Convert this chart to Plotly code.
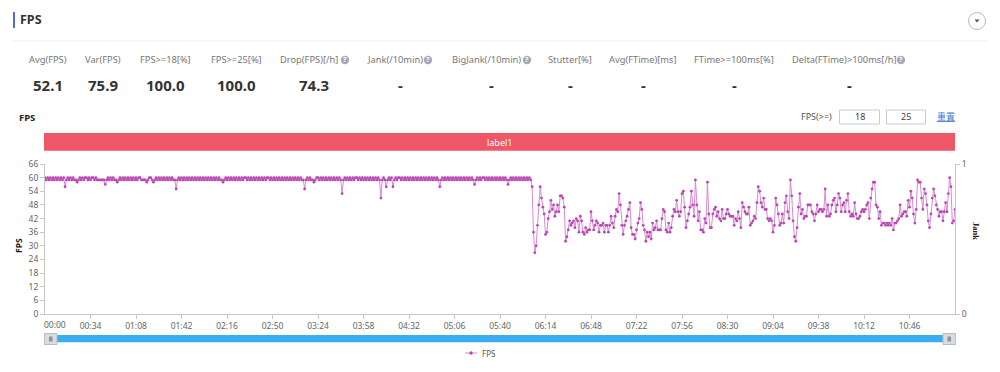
import plotly.graph_objects as go

W, H = 1000, 372

fps_steady = [
60,59,60,59,60,59,60,59,60,59,60,59,60,59,60,56,59,60,59,60,
59,60,59,59,58,59,60,59,60,59,60,60,59,60,59,60,60,59,60,59,
59,59,59,59,59,57,59,60,59,60,59,60,59,59,58,59,60,59,60,59,
60,59,60,59,60,59,60,59,60,59,60,60,59,59,59,59,58,59,60,60,
59,58,59,60,59,60,59,60,59,60,59,60,59,60,59,60,59,59,55,59,
60,59,60,59,60,59,60,59,60,59,60,59,60,59,60,59,60,59,60,59,
60,59,60,59,60,59,60,59,60,59,60,59,59,58,59,60,59,60,59,60,
59,60,59,60,59,60,59,60,59,60,60,59,60,59,60,59,60,59,60,59,
60,59,60,59,60,59,60,60,59,60,59,60,59,60,59,60,59,60,59,60,
59,60,59,60,59,60,59,60,59,60,59,60,59,59,55,59,60,59,60,59,
59,58,59,60,60,59,60,59,60,59,60,59,60,59,60,59,60,59,60,59,
60,59,53,59,60,59,60,59,60,59,60,59,60,60,59,60,59,60,59,60,
59,60,59,60,59,60,59,60,59,60,59,51,59,60,59,56,59,60,59,60,
56,59,60,59,60,60,59,60,59,60,59,60,59,60,59,60,59,60,59,60,
59,60,59,60,59,60,59,60,59,60,59,60,59,60,59,56,59,60,59,60,
59,60,59,60,59,60,59,60,59,60,59,60,59,60,59,60,59,60,59,60,
59,57,59,60,59,60,59,60,60,59,60,59,60,59,60,59,60,59,60,59,
60,59,60,59,60,59,57,59,60,59,60,59,60,59,60,59,60,59,60,59,
60,59,60,59,
]

fps_unstable = [
56,36,27,30,39,48,56,51,47,44,35,36,42,45,50,46,48,43,45,48,
45,52,52,51,47,32,34,37,41,39,40,41,38,42,41,36,43,41,36,35,
38,36,37,37,45,41,37,39,41,40,36,39,39,40,36,39,39,36,39,43,
40,38,43,46,45,53,48,39,35,39,41,43,46,49,38,35,35,33,37,40,
42,49,46,39,37,32,36,34,36,33,40,37,38,41,37,37,37,42,46,45,
37,36,40,36,38,43,46,45,50,45,43,45,53,54,47,38,41,44,47,54,
48,43,59,48,41,45,37,37,36,42,40,58,44,38,38,44,46,47,43,45,
42,41,46,42,42,44,46,44,43,43,43,39,42,41,45,42,38,49,47,45,
44,44,47,
39,40,41,43,42,49,56,54,49,47,51,46,46,42,41,42,41,36,39,51,
48,44,39,40,44,40,49,52,45,42,59,52,41,34,32,38,47,53,44,46,
42,43,43,48,48,48,45,44,41,44,48,45,46,46,45,46,55,43,48,43,
44,48,50,51,45,48,53,51,45,48,49,45,50,53,45,43,44,43,49,44,
42,42,43,45,46,45,46,48,49,42,51,55,58,58,48,47,42,45,39,40,
40,39,40,39,40,39,42,37,40,40,41,42,48,43,44,45,45,43,50,47,
54,51,44,40,46,59,58,58,51,46,55,53,48,41,38,44,51,55,52,48,
46,43,45,45,41,45,49,45,53,60,56,40,41,46,
]

fps = fps_steady + fps_unstable
seconds = list(range(len(fps)))

tick_seconds = [34, 68, 102, 136, 170, 204, 238, 272, 306, 340, 374, 408, 442, 476,
                510, 544, 578, 612, 646]
tick_labels = ["00:34", "01:08", "01:42", "02:16", "02:50", "03:24", "03:58", "04:32",
               "05:06", "05:40", "06:14", "06:48", "07:22", "07:56", "08:30", "09:04",
               "09:38", "10:12", "10:46"]
fps_ticks = [0, 6, 12, 18, 24, 30, 36, 42, 48, 54, 60, 66]
jank_ticks = [0, 1]

stat_names = ["Avg(FPS)", "Var(FPS)", "FPS>=18[%]", "FPS>=25[%]", "Drop(FPS)[/h]", "Jank(/10min)",
              "BigJank(/10min)", "Stutter[%]", "Avg(FTime)[ms]", "FTime>=100ms[%]", "Delta(FTime)>100ms[/h]"]
stat_values = ["52.1", "75.9", "100.0", "100.0", "74.3", "-", "-", "-", "-", "-", "-"]
stat_label_x = [48, 103, 165.5, 236, 309, 395, 486, 570, 643, 734, 844]
stat_value_x = [48, 103, 165.5, 236, 314, 400, 491, 570, 643, 734, 849]
stat_help_x = [None, None, None, None, 345, 428, 527, None, None, None, 901]

FONT = "Noto Sans"
CJK = "Noto Sans CJK SC"
LINE_COLOR = "#d98ad4"
MARK_COLOR = "#bb48b2"


def fx(p):
    return p / W


def fy(p):
    return 1 - p / H


shapes = []
annotations = []


def rect(x0, y0, x1, y1, fill=None, line=None, width=1):
    shapes.append(dict(type="rect", xref="paper", yref="paper", layer="above",
                       x0=fx(x0), x1=fx(x1), y0=fy(y1), y1=fy(y0),
                       fillcolor=fill if fill else "rgba(0,0,0,0)",
                       line=dict(color=line if line else "rgba(0,0,0,0)", width=width if line else 0)))


def circle(cx, cy, r, fill=None, line=None):
    shapes.append(dict(type="circle", xref="paper", yref="paper", layer="above",
                       x0=fx(cx - r), x1=fx(cx + r), y0=fy(cy + r), y1=fy(cy - r),
                       fillcolor=fill if fill else "rgba(0,0,0,0)",
                       line=dict(color=line if line else "rgba(0,0,0,0)", width=1 if line else 0)))


def text(x, y, s, size=9.5, color="#777777", bold=False, anchor="center", family=FONT, angle=0):
    annotations.append(dict(xref="paper", yref="paper", x=fx(x), y=fy(y), text=f"<b>{s}</b>" if bold else s,
                            showarrow=False, xanchor=anchor, yanchor="middle", textangle=angle,
                            font=dict(size=size, color=color, family=family), borderpad=0, borderwidth=0))


# header
rect(13, 12, 15, 28, fill="#4a6fd8")
text(20, 20, "FPS", size=12.5, color="#333333", bold=True, anchor="left")
rect(13, 40.5, 987, 41.5, fill="#eeeeee")
circle(977, 21, 8.5, line="#bbbbbb")
shapes.append(dict(type="path", xref="paper", yref="paper", layer="above",
                   path=f"M {fx(974.5)} {fy(19.5)} L {fx(979.5)} {fy(19.5)} L {fx(977)} {fy(22.5)} Z",
                   fillcolor="#555555", line=dict(width=0)))

# stats
for name, value, lx, vx, hx in zip(stat_names, stat_values, stat_label_x, stat_value_x, stat_help_x):
    text(lx, 60, name, size=9.3)
    text(vx, 85, value, size=15, color="#333333", bold=True)
    if hx is not None:
        circle(hx, 60, 4.2, fill="#a9a9b4")
        text(hx, 60, "?", size=7, color="#ffffff", bold=True)

# chart toolbar
text(19, 118, "FPS", size=9.5, color="#222222", bold=True, anchor="left")
text(816, 117, "FPS(>=)", size=9, color="#555555")
rect(839.5, 110, 879.5, 124, fill="#ffffff", line="#cccccc")
rect(886.5, 110, 925.5, 124, fill="#ffffff", line="#cccccc")
text(859.5, 117, "18", size=9, color="#444444")
text(906, 117, "25", size=9, color="#444444")
text(946, 116.5, "<u>重置</u>", size=9, color="#4a78d0", family=CJK)

# label band
rect(44, 133, 955, 150.7, fill="#ef5668")
text(499.5, 142, "label1", size=9, color="#ffffff")

# axis titles and first tick label
text(18, 246, "FPS", size=8.5, color="#222222", bold=True, angle=-90)
text(976, 231, "Jank", size=8.5, color="#222222", bold=True, angle=90, family="Liberation Serif")
text(54.5, 324, "00:00", size=8.5, color="#666666")

# range slider
rect(45, 335, 955, 342.3, fill="#38aef0")
for a, b in ((44.5, 57), (943, 955.5)):
    rect(a, 333.5, b, 344.5, fill="#d8dbe0", line="#b9bcc2")
    rect(a + 4.5, 336.5, b - 4.5, 341.5, fill="#8e939b")

# legend
shapes.append(dict(type="line", xref="paper", yref="paper", layer="above",
                   x0=fx(465), x1=fx(477), y0=fy(353), y1=fy(353),
                   line=dict(color=LINE_COLOR, width=1)))
circle(471, 353, 1.7, fill=MARK_COLOR)
text(482, 353, "FPS", size=8, color="#555555", anchor="left")

fig = go.Figure()
fig.add_trace(go.Scatter(
    x=seconds, y=fps, mode="lines+markers", name="FPS",
    line=dict(color=LINE_COLOR, width=1),
    marker=dict(color=MARK_COLOR, size=2.8, line=dict(width=0)),
    hoverinfo="skip",
))
fig.add_trace(go.Scatter(x=[0], y=[0], yaxis="y2", mode="markers", marker=dict(opacity=0, size=1),
                         showlegend=False, hoverinfo="skip"))

axis_gray = "#c8c8c8"
fig.update_layout(
    width=W, height=H, autosize=False,
    margin=dict(l=0, r=0, t=0, b=0, pad=0, autoexpand=False),
    paper_bgcolor="#ffffff", plot_bgcolor="#ffffff",
    font=dict(family=FONT, size=8.5, color="#666666"),
    shapes=shapes, annotations=annotations,
    showlegend=False,
    xaxis=dict(domain=[fx(45), fx(955)], range=[0, seconds[-1]], tickmode="array", automargin=False,
               tickvals=tick_seconds, ticktext=tick_labels, ticks="outside", ticklen=4,
               tickcolor=axis_gray, showgrid=False, zeroline=False, showline=True,
               linecolor=axis_gray, linewidth=1, tickfont=dict(size=8.5, color="#666666")),
    yaxis=dict(domain=[fy(314), fy(164)], range=[0, 66], tickmode="array", tickvals=fps_ticks, automargin=False,
               ticks="outside", ticklen=4, tickcolor=axis_gray, showgrid=False, zeroline=False,
               showline=True, linecolor=axis_gray, linewidth=1, tickfont=dict(size=8.5, color="#666666")),
    yaxis2=dict(domain=[fy(314), fy(164)], range=[0, 1], overlaying="y", side="right", tickmode="array",
                tickvals=jank_ticks, ticks="outside", ticklen=4, tickcolor=axis_gray, showgrid=False,
                zeroline=False, showline=True, linecolor=axis_gray, linewidth=1, automargin=False,
                tickfont=dict(size=8.5, color="#666666"), anchor="x"),
)

fig.write_html("out.html", config={"displayModeBar": False},
               post_script="document.body.style.margin='0';")
